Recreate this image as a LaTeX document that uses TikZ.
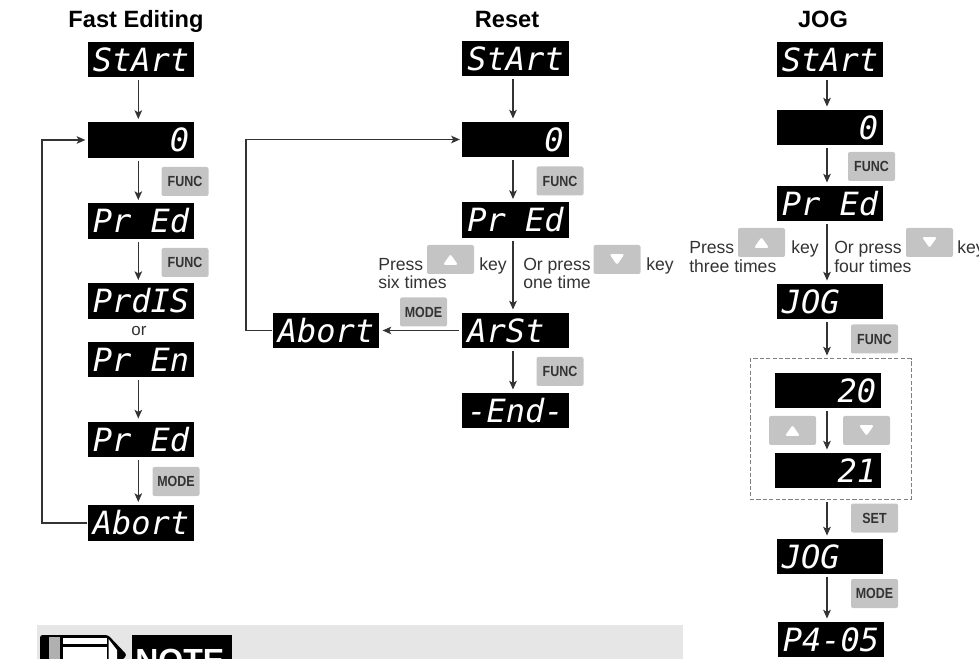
\documentclass[tikz,border=0pt]{standalone}
\usepackage{fontspec}
\usepackage{tikz}
\usetikzlibrary{arrows.meta}
\setmainfont{Liberation Sans}
\newfontfamily\segfont{DejaVu Sans Mono}
\newfontfamily\keyfont{Liberation Sans}[FakeStretch=0.85]
\definecolor{keygray}{HTML}{C4C4C4}
\definecolor{inkgray}{HTML}{333333}
\definecolor{bandgray}{HTML}{E6E6E6}

\begin{document}
\begin{tikzpicture}[x=0.75pt,y=0.75pt,yscale=-1,xscale=1,
  display/.style={fill=black,minimum width=80pt,minimum height=26.6pt,inner sep=0pt,text=white,font={\segfont\itshape\fontsize{24}{24}\selectfont}},
  keybox/.style={fill=keygray,rounded corners=1.5pt,minimum width=35.25pt,minimum height=21.75pt,inner sep=0pt,text=inkgray,font={\keyfont\bfseries\fontsize{11}{11}\selectfont}},
  upkey/.style={keybox,path picture={\fill[white,shift={(path picture bounding box.center)}] (-5.6pt,-4pt) -- (5.6pt,-4pt) -- (0pt,4pt) -- cycle;}},
  downkey/.style={keybox,path picture={\fill[white,shift={(path picture bounding box.center)}] (-5.6pt,4pt) -- (5.6pt,4pt) -- (0pt,-4pt) -- cycle;}},
  heading/.style={anchor=base,inner sep=0pt,font=\bfseries\fontsize{17.7}{18}\selectfont},
  caption/.style={anchor=base west,inner sep=0pt,text=inkgray,font=\fontsize{13.2}{14}\selectfont},
  flow/.style={draw=inkgray,line width=1.2pt,-{Stealth[length=6.5pt,width=5.6pt,inset=1.5pt]},shorten <=2pt,shorten >=2.2pt},
  loopline/.style={draw=inkgray,line width=1.2pt,-{Stealth[length=6.5pt,width=5.6pt,inset=1.5pt]},shorten >=1.5pt}]
\path[use as bounding box,clip] (0,0) rectangle (979,659);

%Shape: Note band
\fill[bandgray] (37,625) rectangle (683,659);
\fill[black,rounded corners=2pt] (40,635) -- (108,635) -- (127,655) -- (118,664) -- (40,664) -- cycle;
\fill[keygray!90!black] (48.5,637) rectangle (60,664);
\fill[white] (63,637.5) rectangle (107,644);
\fill[white] (63,647) rectangle (107,664);
\fill[white] (108.5,639) -- (117,650) -- (117,664) -- (108.5,664) -- cycle;
\fill[black] (132,635) rectangle (232,664);
\node[anchor=base west,inner sep=0pt,text=white,font=\bfseries\fontsize{24}{24}\selectfont] (noteword) at (135,671) {NOTE};

% Text Node
\node[heading] (headA) at (136,27.5) {Fast Editing};
\node[heading] (headB) at (507,28) {Reset};
\node[heading] (headC) at (823,28) {JOG};

%Shape: Fast Editing column
\node[display] (startA) at (141,59.5) {StArt};
\node[display] (zeroA) at (141,140) {\hphantom{0000}0};
\node[display] (predA) at (141,221) {Pr Ed};
\node[display] (disA) at (141,301) {PrdIS};
\node[display] (penA) at (141,359.5) {Pr En};
\node[display] (predB) at (141,439.5) {Pr Ed};
\node[display] (abortA) at (141,523) {Abort};
\node[keybox] (funcA) at (185,181.5) {FUNC};
\node[keybox] (funcB) at (185,262.5) {FUNC};
\node[keybox] (modeA) at (176,481.5) {MODE};
\node[text=inkgray,font=\fontsize{12.7}{13}\selectfont] (orword) at (139,331) {or};

%Shape: Reset column
\node[display] (startB) at (515.5,58.5) {StArt};
\node[display] (zeroB) at (515.5,139.5) {\hphantom{0000}0};
\node[display] (predC) at (515.5,220) {Pr Ed};
\node[display] (arstB) at (515.5,330.5) {ArSt\hphantom{0}};
\node[display] (endB) at (515.5,410.5) {-End-};
\node[display] (abortB) at (326,330.5) {Abort};
\node[keybox] (funcC) at (560,181) {FUNC};
\node[keybox] (funcD) at (560,371.5) {FUNC};
\node[keybox] (modeB) at (423.5,312) {MODE};
\node[upkey] (upB) at (450.5,259.5) {};
\node[downkey] (downB) at (617,259.5) {};

% Text Node
\node[caption] (pressB) at (378,271) {Press};
\node[caption] (keyB) at (479,271) {key};
\node[caption] (sixB) at (378,289) {six times};
\node[caption] (orpressB) at (523,271) {Or press};
\node[caption] (keyC) at (646,271) {key};
\node[caption] (oneB) at (523,289) {one time};

%Shape: JOG column
\node[display] (startC) at (830,59.5) {StArt};
\node[display] (zeroC) at (830,127.5) {\hphantom{0000}0};
\node[display] (predD) at (830,203.5) {Pr Ed};
\node[display] (jogC) at (830,301.5) {JOG\hphantom{00}};
\node[draw=gray,dash pattern=on 3.2pt off 1.6pt,line width=0.75pt,minimum width=120.75pt,minimum height=105pt,inner sep=0pt] (dashbox) at (830.5,429) {};
\node[display] (valA) at (828,390.5) {\hphantom{000}20};
\node[display] (valB) at (828,470.5) {\hphantom{000}21};
\node[display] (jogD) at (830,556.5) {JOG\hphantom{00}};
\node[display] (paramC) at (831,639.5) {P4-05};
\node[keybox] (funcE) at (871.5,166.5) {FUNC};
\node[keybox] (funcF) at (874.5,339) {FUNC};
\node[keybox] (setC) at (874.5,518) {SET};
\node[keybox] (modeC) at (874.5,593.5) {MODE};
\node[upkey] (upC) at (761.5,242.5) {};
\node[downkey] (downC) at (929.5,242.5) {};
\node[upkey] (upD) at (792.5,430.5) {};
\node[downkey] (downD) at (866.5,430.5) {};

% Text Node
\node[caption] (pressC) at (689,254) {Press};
\node[caption] (keyD) at (791,254) {key};
\node[caption] (threeC) at (689,272.5) {three times};
\node[caption] (orpressC) at (834,254) {Or press};
\node[caption] (keyE) at (957,254) {key};
\node[caption] (fourC) at (834,272.5) {four times};

%Shape: Arrows
\coordinate (axisA) at (138.3,0);
\coordinate (axisB) at (513,0);
\coordinate (axisC) at (827,0);
\coordinate (loopA) at (42,0);
\coordinate (loopB) at (246,0);
\foreach \from/\to in {startA/zeroA,zeroA/predA,predA/disA,penA/predB,predB/abortA}
  \draw[flow] (\from.south -| axisA) -- (\to.north -| axisA);
\foreach \from/\to in {startB/zeroB,zeroB/predC,predC/arstB,arstB/endB}
  \draw[flow] (\from.south -| axisB) -- (\to.north -| axisB);
\foreach \from/\to in {startC/zeroC,zeroC/predD,predD/jogC,jogC/dashbox,valA/valB,dashbox/jogD,jogD/paramC}
  \draw[flow] (\from.south -| axisC) -- (\to.north -| axisC);
\draw[flow] (arstB.west) -- (abortB.east);
\draw[loopline] (abortA.west) -- (abortA.west -| loopA) |- (zeroA.west);
\draw[loopline] (abortB.west) -- (abortB.west -| loopB) |- (zeroB.west);

\end{tikzpicture}
\end{document}
